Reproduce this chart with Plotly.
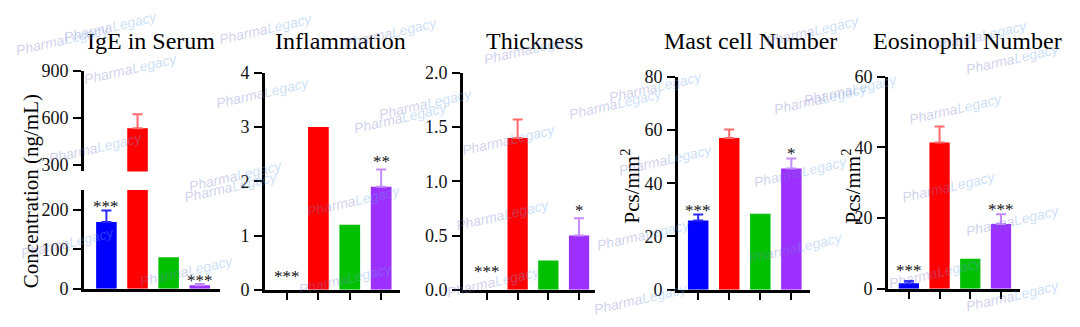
import plotly.graph_objects as go

# ---- data -------------------------------------------------------------
groups = ["G1", "G2", "G3", "G4"]

ige_values = [169, 534, 80, 9]
ige_errors = [29, 90, 0, 3]
ige_marks = ["***", "", "", "***"]

infl_values = [0, 3.0, 1.2, 1.9]
infl_errors = [0, 0, 0, 0.32]
infl_marks = ["***", "", "", "**"]

thick_values = [0, 1.40, 0.27, 0.50]
thick_errors = [0, 0.17, 0, 0.16]
thick_marks = ["***", "", "", "*"]

mast_values = [26, 57, 28.5, 45.5]
mast_errors = [2.3, 3.2, 0, 3.8]
mast_marks = ["***", "", "", "*"]

eos_values = [1.6, 41.4, 8.5, 18.3]
eos_errors = [0.6, 4.5, 0, 2.8]
eos_marks = ["***", "", "", "***"]

titles = ["IgE in Serum", "Inflammation", "Thickness", "Mast cell Number", "Eosinophil Number"]
ytitles = ["Concentration (ng/mL)", "", "", "Pcs/mm<sup>2</sup>", "Pcs/mm<sup>2</sup>"]

# ---- styling ----------------------------------------------------------
W, H = 1080, 327
bar_colors = ["#0000ff", "#ff0000", "#00c000", "#9b30ff"]
err_colors = ["#2a2aff", "#ff6a6a", "#00c000", "#c58cff"]
FONT = "Liberation Serif"


def px(x):
    return x / W


def py(y):
    return 1 - y / H


# pixel layout of each panel: x domain, y domain, x range
panels = [
    dict(x=(84, 220), y=(297, 191.75), xr=(-0.72, 3.65)),
    dict(x=(265, 400), y=(298, 67), xr=(-0.70, 3.60)),
    dict(x=(463, 595), y=(298, 67), xr=(-0.78, 3.52)),
    dict(x=(678, 810), y=(298, 71), xr=(-0.65, 3.60)),
    dict(x=(888, 1020), y=(297, 71), xr=(-0.68, 3.62)),
]
title_x = [151, 340, 534, 750, 967]
ytitle_x = [31, None, None, 631, 852]
ytitle_y = [193, None, None, 188, 188]
# pixel offset of each significance mark above its bar / whisker
mark_shift = [[-7, 0, 0, -8], [2, 0, 0, -4], [7, 0, 0, -4], [-8, 0, 0, -7], [-1, 0, 0, -7]]

series = [
    (ige_values, ige_errors, ige_marks),
    (infl_values, infl_errors, infl_marks),
    (thick_values, thick_errors, thick_marks),
    (mast_values, mast_errors, mast_marks),
    (eos_values, eos_errors, eos_marks),
]
yranges = [(0, 250), (0, 4), (0, 2), (0, 80), (0, 60)]
ytickvals = [[0, 100, 200], [0, 1, 2, 3, 4], [0, 0.5, 1.0, 1.5, 2.0], [0, 20, 40, 60, 80], [0, 20, 40, 60]]

fig = go.Figure()
layout = dict(
    width=W, height=H, margin=dict(l=0, r=0, t=0, b=0),
    paper_bgcolor="white", plot_bgcolor="rgba(0,0,0,0)",
    showlegend=False,
)
annotations = []

xpos = list(range(len(groups)))


def add_bars(xa, ya, vals, errs):
    for i in range(len(groups)):
        fig.add_trace(go.Bar(
            x=[xpos[i]], y=[vals[i]], xaxis=xa, yaxis=ya, width=0.66,
            marker=dict(color=bar_colors[i], line=dict(width=0)),
            error_y=dict(type="data", array=[errs[i]], arrayminus=[0], symmetric=False,
                         color=err_colors[i], thickness=2, width=5, visible=errs[i] > 0),
            hoverinfo="skip",
        ))


axis_line = dict(showline=True, linecolor="black", linewidth=2.8, showgrid=False,
                 zeroline=False, mirror=False)
tick_font = dict(family=FONT, size=18, color="#111")

for k, p in enumerate(panels):
    n = "" if k == 0 else str(k + 1)
    xa, ya = "x" + n, "y" + n
    vals, errs, marks = series[k]
    add_bars(xa, ya, vals, errs)

    layout["xaxis" + n] = dict(
        axis_line, domain=[px(p["x"][0]), px(p["x"][1])], range=list(p["xr"]),
        anchor=ya, tickvals=xpos if k > 0 else [], ticks="outside" if k > 0 else "",
        ticklen=7, tickwidth=2.2, tickcolor="black", showticklabels=False, fixedrange=True,
    )
    layout["yaxis" + n] = dict(
        axis_line, domain=[py(p["y"][0]), py(p["y"][1])], range=list(yranges[k]),
        anchor=xa, tickvals=ytickvals[k], ticks="outside", ticklen=8, tickwidth=2.4,
        tickcolor="black", tickformat=".1f" if k == 2 else "d",
        tickfont=tick_font, ticklabelstandoff=1,
    )

    for i, m in enumerate(marks):
        if m:
            annotations.append(dict(
                x=xpos[i], y=vals[i] + errs[i], xref=xa, yref=ya, text=m, showarrow=False,
                yanchor="bottom", yshift=mark_shift[k][i],
                font=dict(family=FONT, size=17, color="#111"),
            ))

    annotations.append(dict(
        x=px(title_x[k]), y=py(33), xref="paper", yref="paper", text=titles[k],
        showarrow=False, xanchor="center", yanchor="middle",
        font=dict(family=FONT, size=24, color="black"),
    ))
    if ytitles[k]:
        annotations.append(dict(
            x=px(ytitle_x[k]), y=py(ytitle_y[k]), xref="paper", yref="paper",
            text=ytitles[k], textangle=-90, showarrow=False,
            xanchor="center", yanchor="middle",
            font=dict(family=FONT, size=21, color="black"),
        ))

# upper segment of the broken IgE axis
add_bars("x", "y6", ige_values, ige_errors)
layout["yaxis6"] = dict(
    axis_line, domain=[py(172), py(65)], range=[258, 900], anchor="x",
    tickvals=[300, 600, 900], ticks="outside", ticklen=8, tickwidth=2.4, tickcolor="black",
    tickfont=tick_font, ticklabelstandoff=1,
)

# faint brand watermark scattered over the figure
wm_x = [110, 265, 62, 130, 390, 262, 530, 812, 980, 1012, 95, 230, 400, 235, 353, 345,
        67, 187, 508, 502, 493, 655, 820, 665, 800, 643, 795, 640, 955, 948, 1012, 935,
        1012, 850, 425, 615]
wm_y = [18, 20, 32, 63, 25, 88, 42, 22, 28, 52, 147, 188, 115, 177, 203, 287,
        248, 278, 138, 218, 290, 82, 95, 160, 173, 240, 253, 308, 105, 188, 225, 280,
        305, 85, 100, 100]
wm_text = ("<i><span style='color:rgba(120,125,205,0.36)'>Pharma</span>"
           "<span style='color:rgba(110,165,235,0.36)'>Legacy</span></i>")
for x, y in zip(wm_x, wm_y):
    annotations.append(dict(
        x=px(x), y=py(y), xref="paper", yref="paper", text=wm_text, showarrow=False,
        textangle=-13, font=dict(family="Liberation Sans", size=14),
        xanchor="center", yanchor="middle",
    ))

layout["annotations"] = annotations
fig.update_layout(**layout)
fig.write_html("out.html")
